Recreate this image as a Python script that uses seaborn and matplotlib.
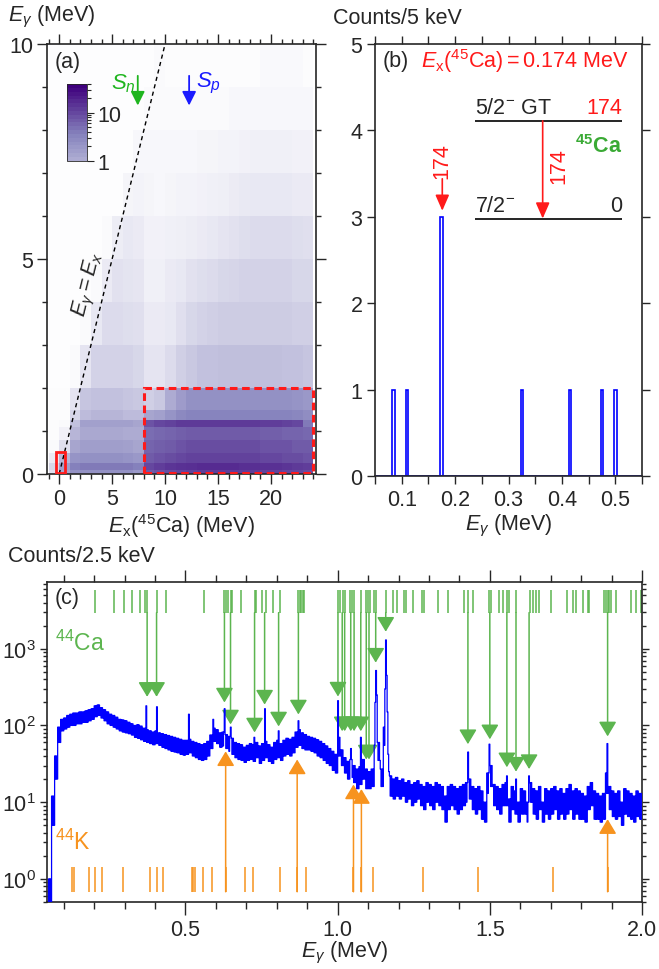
import numpy as np
import pandas as pd
import matplotlib
matplotlib.use('Agg')
import matplotlib.pyplot as plt
import matplotlib.cm as cm
import seaborn as sns
from matplotlib.colors import LinearSegmentedColormap, FuncNorm, LogNorm
from matplotlib.patches import Rectangle
from matplotlib.ticker import MultipleLocator, FixedLocator, FormatStrFormatter, LogLocator, NullFormatter

sns.set_style('ticks')
plt.rcParams['font.family'] = ['Liberation Sans', 'DejaVu Sans']
plt.rcParams['mathtext.fontset'] = 'custom'
plt.rcParams['mathtext.rm'] = 'Liberation Sans'
plt.rcParams['mathtext.it'] = 'Liberation Sans:italic'
plt.rcParams['mathtext.bf'] = 'Liberation Sans:bold'
plt.rcParams['font.size'] = 15.5

# ---------------- panel (a): Ex vs Egamma, mean counts per bin ----------------
ex_edges = list(range(-1, 25))
eg_edges = [0, 0.1, 0.25, 0.5, 0.8, 1.1, 1.25, 1.5, 2, 3, 4, 5, 6, 7, 8, 9, 10]
# rows go from low Egamma to high Egamma, 25 Ex columns (-1..24 MeV)
density = [
    [0.2, 1.2, 2.2, 2.2, 2.2, 2.2, 2.2, 2.2, 1.8, 7, 8, 9, 10, 11, 12, 12, 12, 12, 12, 12, 11, 11, 10, 10, 9],
    [0.3, 1.5, 3.5, 4, 4, 4, 4, 4, 3.5, 10, 12, 14, 15, 16, 17, 17, 17, 17, 16, 16, 15, 15, 14, 13, 12],
    [0.1, 0.8, 2.0, 2.2, 2.2, 2.2, 2.2, 2.0, 1.8, 7, 8, 9, 10, 11, 11, 11, 11, 11, 11, 11, 10, 10, 9, 9, 8],
    [0.01, 0.2, 1.2, 1.5, 1.5, 1.5, 1.5, 1.4, 1.2, 6, 6.5, 7, 8, 9, 9, 9, 9, 9, 9, 9, 8, 8, 8, 7, 7],
    [0.005, 0.05, 0.8, 1.1, 1.1, 1.1, 1.1, 1.0, 1.0, 5, 5.5, 6, 6.5, 7, 7, 7, 7, 7, 7, 7, 6.5, 6.5, 6, 6, 5.5],
    [0.005, 0.01, 0.6, 1.4, 1.4, 1.4, 1.4, 1.4, 1.2, 8, 10, 11, 13, 13, 13, 13, 13, 13, 13, 13, 12, 12, 11, 10, 4],
    [0.005, 0.005, 0.3, 0.7, 0.8, 0.8, 0.8, 0.7, 0.7, 1.2, 1.4, 2.0, 2.8, 3.2, 3.2, 3.2, 3.2, 3.2, 3.2, 3.2, 3.2, 3.2, 3.2, 3, 2.5],
    [0.005, 0.005, 0.15, 0.55, 0.6, 0.6, 0.6, 0.55, 0.5, 0.4, 0.5, 1.0, 1.6, 2.2, 2.2, 2.2, 2.2, 2.2, 2.2, 2.2, 2.2, 2.2, 2.2, 2, 1.8],
    [0.002, 0.002, 0.01, 0.15, 0.35, 0.35, 0.35, 0.35, 0.3, 0.15, 0.15, 0.25, 0.4, 0.5, 0.6, 0.6, 0.65, 0.65, 0.65, 0.65, 0.65, 0.65, 0.6, 0.6, 0.55],
    [0.002, 0.002, 0.002, 0.01, 0.12, 0.25, 0.25, 0.22, 0.2, 0.1, 0.1, 0.12, 0.2, 0.3, 0.35, 0.4, 0.45, 0.45, 0.45, 0.45, 0.45, 0.45, 0.45, 0.4, 0.4],
    [0.002, 0.002, 0.002, 0.002, 0.01, 0.1, 0.18, 0.16, 0.14, 0.06, 0.06, 0.1, 0.12, 0.18, 0.22, 0.25, 0.3, 0.32, 0.35, 0.35, 0.35, 0.35, 0.35, 0.3, 0.3],
    [0.002, 0.002, 0.002, 0.002, 0.002, 0.01, 0.08, 0.12, 0.1, 0.05, 0.05, 0.06, 0.07, 0.08, 0.1, 0.12, 0.15, 0.18, 0.22, 0.25, 0.25, 0.25, 0.25, 0.22, 0.2],
    [0.002, 0.002, 0.002, 0.002, 0.002, 0.002, 0.002, 0.03, 0.04, 0.03, 0.02, 0.03, 0.04, 0.04, 0.05, 0.06, 0.07, 0.09, 0.11, 0.12, 0.12, 0.12, 0.12, 0.1, 0.1],
    [0.002, 0.002, 0.002, 0.002, 0.002, 0.002, 0.002, 0.002, 0.02, 0.02, 0.02, 0.02, 0.02, 0.02, 0.03, 0.03, 0.04, 0.04, 0.05, 0.06, 0.06, 0.06, 0.06, 0.05, 0.05],
    [0.002, 0.002, 0.002, 0.002, 0.002, 0.002, 0.002, 0.002, 0.002, 0.01, 0.01, 0.01, 0.01, 0.01, 0.01, 0.01, 0.01, 0.02, 0.02, 0.02, 0.02, 0.02, 0.02, 0.02, 0.02],
    [0.002, 0.002, 0.002, 0.002, 0.002, 0.002, 0.002, 0.002, 0.002, 0.002, 0.01, 0.005, 0.005, 0.005, 0.005, 0.005, 0.005, 0.005, 0.005, 0.005, 0.015, 0.015, 0.015, 0.015, 0.005],
]
s_n = 7.42
s_p = 12.27

# ---------------- panel (b): gamma spectrum gated on Ex = 0.174 MeV ----------------
b_energy = [0.085, 0.110, 0.175, 0.325, 0.415, 0.475, 0.500]
b_counts = [1, 1, 3, 1, 1, 1, 1]

# ---------------- panel (c): singles spectrum ----------------
# upper and lower edge of the noisy band, per 10 keV block starting at 0.04 MeV
cont_start = 0.04
band_hi = [
    0.3, 1, 12, 40, 95, 120,
    125, 135, 140, 145, 145, 150, 150, 155, 160, 165,
    180, 185, 170, 160, 150, 140, 135, 128, 120, 118,
    115, 110, 105, 100, 102, 98, 92, 88, 85, 82,
    85, 80, 78, 76, 74, 72, 70, 68, 66, 64,
    64, 66, 62, 60, 58, 56, 58, 62, 75, 92,
    88, 80, 82, 76, 72, 68, 60, 58, 56, 52,
    55, 58, 56, 60, 54, 58, 62, 56, 52, 60,
    64, 58, 64, 68, 66, 70, 82, 88, 80, 76,
    72, 70, 68, 65, 62, 58, 54, 50, 46, 42,
    70, 48, 38, 34, 36, 30, 27, 29, 36, 27,
    25, 27, 55, 60, 27, 95, 42, 22, 20, 21,
    19, 20, 18, 19, 17, 18, 19, 17, 16, 18,
    17, 16, 18, 17, 16, 12, 16, 17, 16, 15,
    16, 17, 18, 20, 16, 15, 16, 14, 10, 24,
    30, 17, 16, 15, 17, 18, 11, 16, 14, 10,
    15, 14, 10, 18, 15, 14, 16, 10, 15, 14,
    15, 16, 14, 15, 13, 15, 17, 14, 15, 14,
    13, 12, 16, 18, 14, 13, 12, 13, 24, 16,
    14, 13, 14, 10, 15, 14, 13, 12, 14, 13,
]
band_lo = [
    0.3, 0.4, 5, 20, 60, 85,
    90, 95, 100, 100, 105, 105, 110, 110, 115, 120,
    130, 135, 125, 115, 105, 100, 95, 90, 85, 82,
    80, 78, 75, 70, 68, 65, 62, 60, 58, 56,
    58, 55, 52, 50, 48, 46, 45, 44, 42, 41,
    42, 44, 40, 38, 36, 35, 36, 40, 50, 62,
    58, 52, 54, 50, 46, 42, 38, 36, 35, 33,
    35, 36, 34, 38, 32, 35, 38, 34, 32, 36,
    38, 35, 40, 42, 40, 44, 52, 55, 50, 48,
    48, 46, 44, 40, 38, 35, 32, 30, 26, 24,
    40, 30, 24, 20, 21, 18, 15, 17, 20, 15,
    15, 16, 35, 35, 16, 55, 25, 12, 11, 12,
    11, 12, 10, 11, 9, 10, 11, 9, 8, 10,
    9, 8, 10, 9, 8, 5.5, 8, 9, 8, 7,
    8, 9, 10, 11, 8, 7, 8, 6, 5.5, 13,
    16, 9, 8, 7, 9, 9, 5.5, 8, 7, 5.5,
    7, 7, 5.5, 10, 7, 6, 8, 5.5, 7, 6,
    7, 8, 6, 7, 6, 7, 8, 6, 7, 6,
    6, 5.5, 8, 9, 6, 6, 5.5, 6, 13, 8,
    6.5, 6, 6.5, 5, 7, 6.5, 6, 5.5, 6.5, 6,
]
peak_e = [0.371, 0.405, 0.511, 0.591, 0.628, 0.648, 0.727, 0.760, 0.806, 0.871,
          1.001, 1.044, 1.076, 1.1225, 1.125, 1.1275, 1.155, 1.1575, 1.160, 1.1625,
          1.428, 1.499, 1.556, 1.586, 1.629, 1.887]
peak_h = [180, 175, 140, 120, 165, 95, 70, 165, 85, 115,
          210, 50, 70, 200, 520, 250, 300, 1300, 450, 150,
          45, 57, 22, 20, 22, 58]

ca44_lines = [0.202, 0.264, 0.299, 0.325, 0.352, 0.366, 0.374, 0.405, 0.437, 0.560,
              0.628, 0.634, 0.639, 0.648, 0.654, 0.683, 0.727, 0.733, 0.752, 0.765,
              0.788, 0.809, 0.871, 0.875, 0.880, 0.886, 0.891,
              1.001, 1.007, 1.019, 1.024, 1.040, 1.048, 1.054, 1.076, 1.094, 1.101,
              1.106, 1.119, 1.125, 1.158, 1.183, 1.196, 1.218, 1.224, 1.246, 1.276,
              1.284, 1.331, 1.364, 1.414, 1.427, 1.446, 1.498, 1.503, 1.529, 1.542,
              1.555, 1.563, 1.586, 1.632, 1.643, 1.652, 1.662, 1.701, 1.753, 1.772,
              1.783, 1.805, 1.821, 1.827, 1.876, 1.882, 1.887, 1.893, 1.898, 1.914,
              1.964, 1.980, 1.997]
ca44_arrow_e = [0.374, 0.405, 0.628, 0.648, 0.727, 0.760, 0.806, 0.871, 1.001, 1.015,
                1.023, 1.043, 1.054, 1.076, 1.094, 1.103, 1.125, 1.158, 1.428, 1.500,
                1.556, 1.586, 1.629, 1.887]
ca44_arrow_tip = [236, 236, 199, 103, 81, 187, 97, 139, 238, 84,
                  84, 84, 84, 84, 36, 36, 658, 1665, 57, 66,
                  28.5, 25, 27, 72]
k44_lines = [0.127, 0.135, 0.182, 0.204, 0.226, 0.294, 0.383, 0.407, 0.427, 0.520,
             0.525, 0.531, 0.557, 0.586, 0.632, 0.695, 0.723, 0.809, 0.867, 0.895,
             1.052, 1.078, 1.116, 1.279, 1.462, 1.706, 1.887]
k44_arrow_e = [0.632, 0.867, 1.052, 1.078, 1.887]
k44_arrow_tip = [46, 36, 17, 14.8, 6.0]

GREEN = '#5cb54f'
ORANGE = '#f7931e'
RED = '#ff1a1a'


def style_axes(ax, major, minor):
    ax.tick_params(which='both', direction='out', top=True, right=True,
                   width=1.0, labelsize=15.5, pad=3)
    ax.tick_params(which='major', length=major)
    ax.tick_params(which='minor', length=minor)
    for sp in ax.spines.values():
        sp.set_linewidth(1.2)


fig = plt.figure(figsize=(6.59, 9.70), dpi=100)
W, H = 659, 970
axa = fig.add_axes([47 / W, 1 - 475 / H, 269 / W, 430 / H])
axb = fig.add_axes([375 / W, 1 - 477 / H, 267 / W, 432 / H])
axc = fig.add_axes([47 / W, 1 - 903 / H, 595 / W, 320 / H])

# ---- (a)
vmax = 40
frac1 = 1 / (1 + np.log10(vmax))
pur = plt.cm.Purples
cmap_a = LinearSegmentedColormap.from_list(
    'lav', [(0, 'white'), (frac1, pur(0.44)), (frac1 + (1 - frac1) * 0.33, pur(0.6)),
            (frac1 + (1 - frac1) * 0.66, pur(0.8)), (1, pur(1.0))])
norm_a = FuncNorm((lambda v: np.where(v < 1, np.maximum(v, 0) ** 0.6 - 1, np.log10(np.maximum(v, 1))),
                   lambda x: np.where(x < 0, np.maximum(x + 1, 0) ** (1 / 0.6), 10 ** np.maximum(x, 0))),
                  vmin=0, vmax=vmax)
axa.pcolormesh(ex_edges, eg_edges, np.array(density), cmap=cmap_a, norm=norm_a,
               shading='flat', rasterized=True)
axa.axline((0, 0), (10, 10), color='k', ls=(0, (3, 2.5)), lw=1.0)
axa.add_patch(Rectangle((8.0, 0.03), 16.0, 1.97, fill=False, ec=RED, lw=2.2,
                        ls=(0, (2.5, 1.5)), zorder=4))
axa.add_patch(Rectangle((-0.3, 0.02), 0.85, 0.5, fill=False, ec=RED, lw=2, zorder=4))
axa.set_xlim(-1.15, 24.25)
axa.set_ylim(0, 10)
axa.xaxis.set_major_locator(FixedLocator([0, 5, 10, 15, 20]))
axa.xaxis.set_minor_locator(MultipleLocator(1))
axa.yaxis.set_major_locator(FixedLocator([0, 5, 10]))
axa.yaxis.set_minor_locator(MultipleLocator(1))
style_axes(axa, 7, 3.5)
axa.text(-0.4, 9.6, '(a)', va='center', ha='left')
axa.text(2.83, 4.42, r'$E_\gamma = E_x$', rotation=76, rotation_mode='anchor',
         ha='center', va='center')
axa.annotate('', xy=(s_n, 8.57), xytext=(s_n, 9.26),
             arrowprops=dict(arrowstyle='-|>,head_length=0.7,head_width=0.35',
                             color='#1fb51f', lw=1.3, shrinkA=0, shrinkB=0, mutation_scale=12))
axa.text(7.2, 9.11, '$S_n$', color='#1fb51f', ha='right', va='center', fontsize=16)
axa.annotate('', xy=(s_p, 8.57), xytext=(s_p, 9.26),
             arrowprops=dict(arrowstyle='-|>,head_length=0.7,head_width=0.35',
                             color='#1a1aff', lw=1.3, shrinkA=0, shrinkB=0, mutation_scale=12))
axa.text(12.9, 9.11, '$S_p$', color='#1a1aff', ha='left', va='center', fontsize=16)

cax = fig.add_axes([66.7 / W, 1 - 161.7 / H, 20 / W, 76.7 / H])
cmap_cb = LinearSegmentedColormap.from_list(
    'lavcb', [pur(0.44), pur(0.6), pur(0.8), pur(1.0)], N=20)
cb = fig.colorbar(cm.ScalarMappable(norm=LogNorm(1, vmax), cmap=cmap_cb), cax=cax)
cb.set_ticks([1, 10])
cb.set_ticklabels(['1', '10'])
cb.outline.set_linewidth(0.6)
cax.tick_params(which='both', labelsize=15.5, width=0.8, pad=3)
cax.tick_params(which='major', length=5)
cax.tick_params(which='minor', length=3)

fig.text(8 / W, 1 - 17 / H, r'$E_\gamma$ (MeV)', ha='left', va='center')
fig.text(181 / W, 1 - 526 / H, r'$E_\mathrm{x}(^{45}\mathrm{Ca})$ (MeV)', ha='center', va='center')

# ---- (b)
b_df = pd.DataFrame({'E': b_energy, 'n': b_counts})
sns.histplot(data=b_df, x='E', weights='n', binwidth=0.005, binrange=(0.0525, 0.5525),
             fill=False, color='#0000ff', linewidth=1.2, ax=axb)
axb.set_xlim(0.05, 0.55)
axb.set_ylim(0, 5)
axb.set_xlabel('')
axb.set_ylabel('')
axb.xaxis.set_major_locator(FixedLocator([0.1, 0.2, 0.3, 0.4, 0.5]))
axb.xaxis.set_major_formatter(FormatStrFormatter('%.1f'))
axb.xaxis.set_minor_locator(FixedLocator([0.05, 0.15, 0.25, 0.35, 0.45, 0.55]))
axb.yaxis.set_major_locator(MultipleLocator(1))
style_axes(axb, 6, 6)
axb.text(0.065, 4.81, '(b)', va='center', ha='left')
axb.text(0.137, 4.81, r'$E_\mathrm{x}(^{45}\mathrm{Ca}) = 0.174$ MeV', color=RED,
         va='center', ha='left')
axb.hlines([4.11, 2.98], 0.2375, 0.5127, color='k', lw=1.2)
axb.text(0.2375, 4.14, '5/2$^{-}$ GT', ha='left', va='bottom')
axb.text(0.5127, 4.14, '174', ha='right', va='bottom', color=RED)
axb.text(0.2375, 3.01, '7/2$^{-}$', ha='left', va='bottom')
axb.text(0.5127, 3.01, '0', ha='right', va='bottom')
axb.annotate('', xy=(0.364, 2.98), xytext=(0.364, 4.11),
             arrowprops=dict(arrowstyle='-|>,head_length=0.8,head_width=0.35',
                             color=RED, lw=1.2, shrinkA=0, shrinkB=0, mutation_scale=12))
axb.text(0.394, 3.6, '174', rotation=90, color=RED, ha='center', va='center')
axb.text(0.5127, 3.83, r'$\mathbf{^{45}Ca}$', color='#3aaa35', ha='right', va='center')
axb.annotate('', xy=(0.176, 3.07), xytext=(0.176, 3.44),
             arrowprops=dict(arrowstyle='-|>,head_length=0.8,head_width=0.35',
                             color=RED, lw=1.2, shrinkA=0, shrinkB=0, mutation_scale=12))
axb.text(0.176, 3.66, '174', rotation=90, color=RED, ha='center', va='center')
fig.text(333 / W, 1 - 18 / H, 'Counts/5 keV', ha='left', va='center')
fig.text(509 / W, 1 - 526 / H, r'$E_\gamma$ (MeV)', ha='center', va='center')

# ---- (c)
fine_w = 0.0025
counts = np.column_stack([band_hi, band_lo, band_hi, band_lo]).ravel().astype(float)
centers = cont_start + fine_w * (np.arange(len(counts)) + 0.5)
for e, h in zip(peak_e, peak_h):
    counts[int((e - cont_start) / fine_w + 1e-6)] = h

axc.vlines(ca44_lines, 2950, 5900, color=GREEN, lw=1.1, zorder=2)
axc.vlines(k44_lines, 0.68, 1.43, color=ORANGE, lw=1.1, zorder=2)
for e, tip in zip(ca44_arrow_e, ca44_arrow_tip):
    axc.annotate('', xy=(e, tip), xytext=(e, 2950),
                 arrowprops=dict(arrowstyle='-|>,head_length=0.75,head_width=0.45',
                                 color=GREEN, lw=1.1, shrinkA=0, shrinkB=0,
                                 mutation_scale=12), zorder=2)
for e, tip in zip(k44_arrow_e, k44_arrow_tip):
    axc.annotate('', xy=(e, tip), xytext=(e, 0.68),
                 arrowprops=dict(arrowstyle='-|>,head_length=0.75,head_width=0.45',
                                 color=ORANGE, lw=1.1, shrinkA=0, shrinkB=0,
                                 mutation_scale=12), zorder=2)
spec_df = pd.DataFrame({'E': centers, 'counts': counts})
sns.lineplot(data=spec_df, x='E', y='counts', ax=axc, color='#0000ff', lw=0.9,
             drawstyle='steps-mid', estimator=None, zorder=3)
axc.set_yscale('log')
axc.set_xlim(0.045, 2.0)
axc.set_ylim(0.5, 7400)
axc.set_xlabel('')
axc.set_ylabel('')
axc.xaxis.set_major_locator(FixedLocator([0.5, 1.0, 1.5, 2.0]))
axc.xaxis.set_major_formatter(FormatStrFormatter('%.1f'))
axc.xaxis.set_minor_locator(MultipleLocator(0.1))
axc.yaxis.set_major_locator(LogLocator(base=10, numticks=10))
axc.yaxis.set_minor_locator(LogLocator(base=10, subs=np.arange(2, 10), numticks=10))
axc.yaxis.set_minor_formatter(NullFormatter())
style_axes(axc, 9, 5)
axc.tick_params(axis='y', which='major', length=5)
axc.tick_params(axis='y', which='minor', length=3)
axc.text(0.0134, 0.953, '(c)', transform=axc.transAxes, ha='left', va='center')
axc.text(0.0134, 0.8125, r'$^{44}$Ca', transform=axc.transAxes, ha='left',
         va='center', color=GREEN, fontsize=16.5)
axc.text(0.0134, 0.19, r'$^{44}$K', transform=axc.transAxes, ha='left',
         va='center', color=ORANGE, fontsize=16.5)
fig.text(8 / W, 1 - 557 / H, 'Counts/2.5 keV', ha='left', va='center')
fig.text(345 / W, 1 - 953 / H, r'$E_\gamma$ (MeV)', ha='center', va='center')

fig.savefig('out.png', dpi=100)
